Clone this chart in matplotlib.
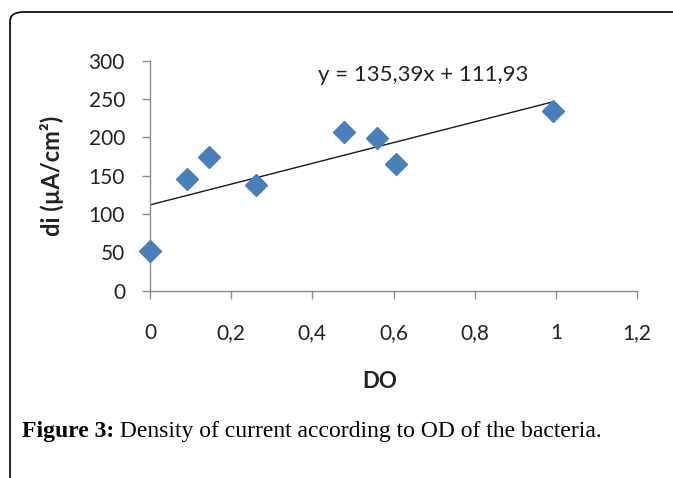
import matplotlib
matplotlib.use("Agg")
import matplotlib.pyplot as plt
from matplotlib.patches import FancyBboxPatch
import numpy as np

# Data
od = [0.0, 0.092, 0.146, 0.26, 0.477, 0.56, 0.606, 0.992]
di = [52, 146, 174, 138, 207, 199, 165, 235]
slope, intercept = 135.39, 111.93
x_ticks = [0, 0.2, 0.4, 0.6, 0.8, 1.0, 1.2]
x_tick_labels = ["0", "0,2", "0,4", "0,6", "0,8", "1", "1,2"]
y_ticks = [0, 50, 100, 150, 200, 250, 300]
y_tick_labels = ["0", "50", "100", "150", "200", "250", "300"]
equation = "y = 135,39x + 111,93"
x_label = "DO"
y_label = "di (µA/cm²)"
caption_bold = "Figure 3:"
caption_rest = " Density of current according to OD of the bacteria."

W, H = 673, 478
fig = plt.figure(figsize=(W / 100, H / 100), dpi=100)
fig.patch.set_facecolor("white")

# Frame with rounded top-left corner extending beyond right/bottom edges
frame = FancyBboxPatch((10 / W, -0.2), 1.2, (H - 12) / H + 0.2,
                       boxstyle="round,pad=0,rounding_size=0.02",
                       transform=fig.transFigure, fill=False,
                       edgecolor="#111111", linewidth=1.3, figure=fig)
fig.patches.append(frame)

ax_left, ax_right = 150, 637
ax_top, ax_bottom = 60.7, 290.7
ax = fig.add_axes([ax_left / W, 1 - ax_bottom / H,
                   (ax_right - ax_left) / W, (ax_bottom - ax_top) / H])
ax.set_xlim(0, 1.2)
ax.set_ylim(0, 300)
ax.patch.set_alpha(0)

for s in ["top", "right"]:
    ax.spines[s].set_visible(False)
for s in ["left", "bottom"]:
    ax.spines[s].set_color("#8c8c8c")
    ax.spines[s].set_linewidth(1.0)
ax.spines["left"].set_bounds(0, 300)

font = "Lato"
ax.set_xticks(x_ticks)
ax.set_xticklabels(x_tick_labels, fontfamily=font, fontsize=15, color="#222222")
ax.set_yticks(y_ticks)
ax.set_yticklabels(y_tick_labels, fontfamily=font, fontsize=15, color="#222222")
ax.tick_params(axis="x", direction="out", length=6, width=1, color="#8c8c8c", pad=17)
ax.tick_params(axis="y", direction="out", length=6, width=1, color="#8c8c8c", pad=12)

ax.plot(od, di, linestyle="none", marker="D", markersize=11,
        color="#4a7ebb", markeredgecolor="#4a7ebb", clip_on=False, zorder=3)

xl = np.array([min(od), max(od)])
ax.plot(xl, slope * xl + intercept, color="#1a1a1a", linewidth=1.0, zorder=2)

fig.text(423 / W, 1 - 75 / H, equation, ha="center", va="center",
         fontfamily=font, fontsize=16, color="#222222")
fig.text(380 / W, 1 - 381 / H, x_label, ha="center", va="center",
         fontfamily=font, fontsize=16, fontweight="bold", color="#222222")
fig.text(52 / W, 1 - 176 / H, y_label, ha="center", va="center", rotation=90,
         fontfamily=font, fontsize=17, fontweight="bold", color="#222222")

t1 = fig.text(22 / W, 1 - 432 / H, caption_bold, ha="left", va="center",
              fontfamily="Liberation Serif", fontsize=17, fontweight="bold", color="black")
fig.canvas.draw()
bb = t1.get_window_extent()
fig.text(bb.x1 / W, 1 - 432 / H, caption_rest, ha="left", va="center",
         fontfamily="Liberation Serif", fontsize=17, color="black")

fig.savefig("out.png", dpi=100)
